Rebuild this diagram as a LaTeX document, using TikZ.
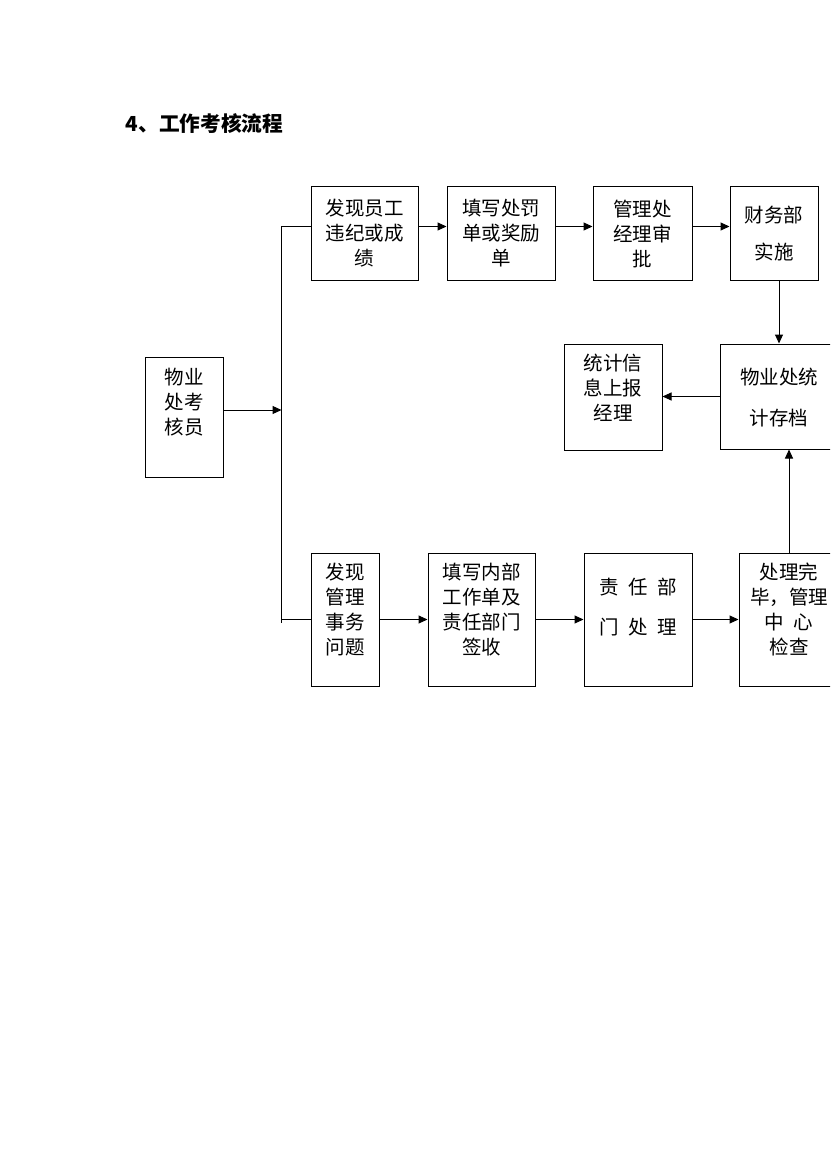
\documentclass[tikz,border=0pt]{standalone}
\usepackage{fontspec}
\setmainfont{Noto Sans CJK SC}
\usetikzlibrary{arrows.meta}
\begin{document}
\begin{tikzpicture}[x=1pt,y=-1pt,
  box/.style={draw, line width=1pt, inner sep=0pt},
  txt/.style={font=\fontsize{19.5}{25}\selectfont, align=center, inner sep=0pt},
  ln/.style={line width=1pt},
  arr/.style={line width=1pt, -{Triangle[length=9pt,width=8pt]}}]
\clip (0,0) rectangle (830,1174);
\fill[white] (0,0) rectangle (830,1174);
\node[font=\fontsize{20.7}{24}\selectfont\bfseries, anchor=west, inner sep=0pt] (title) at (125.5,124) {4、工作考核流程};

% left box
\node[box, minimum width=78pt, minimum height=120pt] (kh) at (184,417) {};
\node[txt] (kht) at ([yshift=15pt]kh.center) {物业\\处考\\核员};

% top row
\node[box, minimum width=107pt, minimum height=93pt] (T1) at (364.5,233.5) {};
\node[txt] (T1t) at (T1.center) {发现员工\\违纪或成\\绩};
\node[box, minimum width=108pt, minimum height=93pt] (T2) at (501,233.5) {};
\node[txt] (T2t) at (T2.center) {填写处罚\\单或奖励\\单};
\node[box, minimum width=99pt, minimum height=93pt] (T3) at (642.5,233.5) {};
\node[txt] (T3t) at (T3.center) {管理处\\经理审\\批};
\node[box, minimum width=88pt, minimum height=93pt] (T4) at (774,233.5) {};
\node[txt, font=\fontsize{19.5}{37}\selectfont] (T4t) at (T4.center) {财务部\\实施};

% middle row
\node[box, minimum width=118pt, minimum height=105pt] (S) at (779,396.5) {};
\node[txt, font=\fontsize{19.5}{41}\selectfont] (St) at ([yshift=-1pt]S.center) {物业处统\\计存档};
\node[box, minimum width=98pt, minimum height=106pt] (R) at (613,397) {};
\node[txt] (Rt) at ([yshift=9pt]R.center) {统计信\\息上报\\经理};

% bottom row
\node[box, minimum width=68pt, minimum height=133pt] (B1) at (345,619.5) {};
\node[txt] (B1t) at ([yshift=10pt]B1.center) {发现\\管理\\事务\\问题};
\node[box, minimum width=107pt, minimum height=133pt] (B2) at (481.5,619.5) {};
\node[txt] (B2t) at ([yshift=10pt]B2.center) {填写内部\\工作单及\\责任部门\\签收};
\node[box, minimum width=108pt, minimum height=133pt] (B3) at (638,619.5) {};
\node[txt, font=\fontsize{19.5}{40}\selectfont] (B3t) at ([yshift=12.5pt]B3.center) {责\hspace{0.5em}任\hspace{0.5em}部\\门\hspace{0.5em}处\hspace{0.5em}理};
\node[box, minimum width=100pt, minimum height=133pt] (B4) at (789,619.5) {};
\node[txt] (B4t) at ([yshift=10pt]B4.center) {处理完\\毕，管理\\中\hspace{0.5em}心\\检查};

% connectors
\coordinate (jt) at (281.5,226.5);
\coordinate (jb) at (281.5,623);
\coordinate (kha) at ([yshift=7pt]kh.east);
\draw[ln] (jt) -- (jb);
\draw[arr] (kha) -- (kha -| jt);
\draw[ln] (jt) -- (jt -| T1.west);
\draw[arr] (jt -| T1.east) -- (jt -| T2.west);
\draw[arr] (jt -| T2.east) -- (jt -| T3.west);
\draw[arr] (jt -| T3.east) -- (jt -| T4.west);
\draw[arr] (T4.south -| S.north) -- (S.north);
\draw[arr] (S.west) -- (S.west -| R.east);
\draw[ln] (jb |- B1.west) -- (B1.west);
\draw[arr] (B1.east) -- (B2.west);
\draw[arr] (B2.east) -- (B3.west);
\draw[arr] (B3.east) -- (B4.west);
\draw[arr] (B4.north) -- (B4.north |- S.south);
\end{tikzpicture}
\end{document}
